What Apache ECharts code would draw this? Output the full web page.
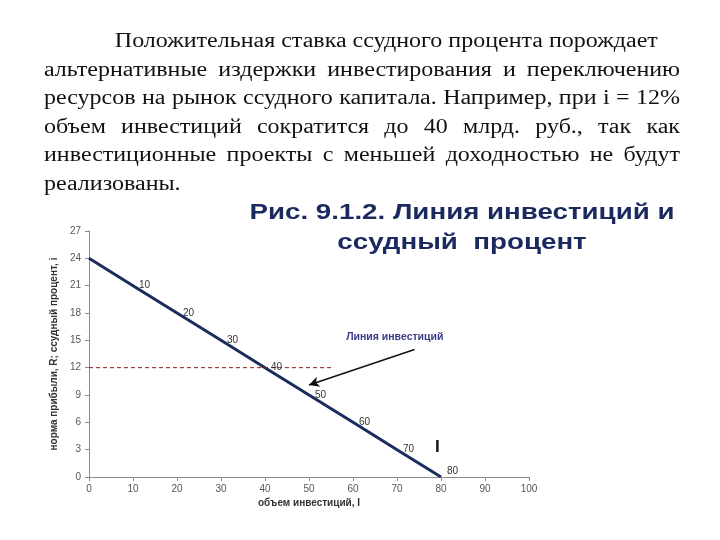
<!DOCTYPE html>
<html>
<head>
<meta charset="utf-8">
<script src="https://cdn.jsdelivr.net/npm/echarts@6/dist/echarts.min.js"></script>
<style>
	html, body { margin: 0; padding: 0; background: #fff; }
	#wrap { position: relative; width: 720px; height: 540px; }
	#chart { position: absolute; left: 0; top: 0; width: 720px; height: 540px; }
	#text { position: absolute; left: 44px; top: 26px; width: 530px; transform: scaleX(1.2); transform-origin: 0 0; font-family: "Liberation Serif", "Times New Roman", serif; font-size: 20px; line-height: 28.5px; color: #111; }
	#text div { text-align: justify; text-align-last: justify; white-space: nowrap; }
	#text div.first { text-indent: 59px; text-align-last: left; }
	#text div.last { text-align-last: left; }
</style>
</head>
<body>
<div id="wrap">
	<div id="chart"></div>
	<div id="text"></div>
</div>
<script>
// текст над графиком
var paragraph = [
	'Положительная ставка ссудного процента порождает',
	'альтернативные издержки инвестирования и переключению',
	'ресурсов на рынок ссудного капитала. Например, при i = 12%',
	'объем инвестиций сократится до 40 млрд. руб., так как',
	'инвестиционные проекты с меньшей доходностью не будут',
	'реализованы.'
];

// линия инвестиций: объем I и норма прибыли R
var investVolume = [0, 10, 20, 30, 40, 50, 60, 70, 80];
var profitRate = [24, 21, 18, 15, 12, 9, 6, 3, 0];
var pointLabels = ['', '10', '20', '30', '40', '50', '60', '70', '80'];

// ссудный процент i = 12%
var rateLineX = [0, 55];
var rateLineY = [12, 12];

// подписи и стрелка
var arrowFrom = [74, 14];
var arrowTo = [50, 10.1];
var noteText = 'Линия инвестиций';
var notePos = [69.5, 15.4];
var curveName = 'I';
var curveNamePos = [79.2, 3.3];

var xTicks = [0, 10, 20, 30, 40, 50, 60, 70, 80, 90, 100];
var yTicks = [0, 3, 6, 9, 12, 15, 18, 21, 24, 27];

var box = document.getElementById('text');
paragraph.forEach(function(line, i) {
	var d = document.createElement('div');
	d.textContent = line;
	if (i === 0) d.className = 'first';
	if (i === paragraph.length - 1) d.className = 'last';
	box.appendChild(d);
});

var myChart = echarts.init(document.getElementById('chart'));

var lineData = investVolume.map(function(x, i) {
	var item = { value: [x, profitRate[i]], label: { formatter: pointLabels[i] } };
	if (i === investVolume.length - 1) item.label.offset = [0, -6];
	return item;
});

var option = {
	animation: false,
	textStyle: { fontFamily: 'Liberation Sans, Arial, sans-serif' },
	grid: { left: 89, right: 191, top: 231, bottom: 63 },
	graphic: [{
		type: 'text',
		x: 462,
		y: 198,
		scaleX: 1.26,
		style: {
			text: 'Рис. 9.1.2. Линия инвестиций и\nссудный  процент',
			align: 'center',
			fill: '#1b2a5e',
			font: 'bold 22px "Liberation Sans", Arial, sans-serif',
			lineHeight: 30
		}
	}],
	xAxis: {
		type: 'value',
		min: xTicks[0],
		max: xTicks[xTicks.length - 1],
		interval: 10,
		name: 'объем инвестиций, I',
		nameLocation: 'middle',
		nameGap: 21,
		nameTextStyle: { fontSize: 10, color: '#333', fontWeight: 'bold' },
		axisLine: { lineStyle: { color: '#8c8c8c' } },
		axisTick: { show: true, length: 4, lineStyle: { color: '#8c8c8c' } },
		axisLabel: { fontSize: 10, color: '#555', margin: 7 },
		splitLine: { show: false }
	},
	yAxis: {
		type: 'value',
		min: yTicks[0],
		max: yTicks[yTicks.length - 1],
		interval: 3,
		name: 'норма прибыли, R; ссудный процент, i',
		nameLocation: 'middle',
		nameGap: 25,
		nameTextStyle: { fontSize: 10, color: '#333', fontWeight: 'bold' },
		axisLine: { show: true, lineStyle: { color: '#8c8c8c' } },
		axisTick: { show: true, length: 4, lineStyle: { color: '#8c8c8c' } },
		axisLabel: { fontSize: 10, color: '#555', margin: 8 },
		splitLine: { show: false }
	},
	series: [{
		name: 'Линия инвестиций',
		type: 'line',
		data: lineData,
		symbol: 'circle',
		symbolSize: 0.1,
		showSymbol: true,
		itemStyle: { color: '#1c2c5c' },
		lineStyle: { color: '#1c2c5c', width: 3 },
		label: { show: true, position: 'right', distance: 6, fontSize: 10, color: '#333' },
		markLine: {
			silent: true,
			symbol: ['none', 'arrow'],
			symbolSize: [8, 10],
			lineStyle: { color: '#111', width: 1.5, type: 'solid' },
			label: { show: false },
			data: [[{ coord: arrowFrom }, { coord: arrowTo }]]
		},
		markPoint: {
			silent: true,
			symbol: 'circle',
			symbolSize: 0,
			data: [{
				coord: notePos,
				label: { show: true, formatter: noteText, color: '#3b3b8a', fontSize: 10.5, fontWeight: 'bold', position: 'inside' }
			}, {
				coord: curveNamePos,
				label: { show: true, formatter: curveName, color: '#111', fontSize: 17, fontWeight: 'bold', position: 'inside' }
			}]
		}
	}, {
		type: 'line',
		data: rateLineX.map(function(x, i) { return [x, rateLineY[i]]; }),
		symbol: 'none',
		lineStyle: { color: '#8b1c1c', width: 1, type: [4, 3] }
	}]
};

myChart.setOption(option);
</script>
</body>
</html>
